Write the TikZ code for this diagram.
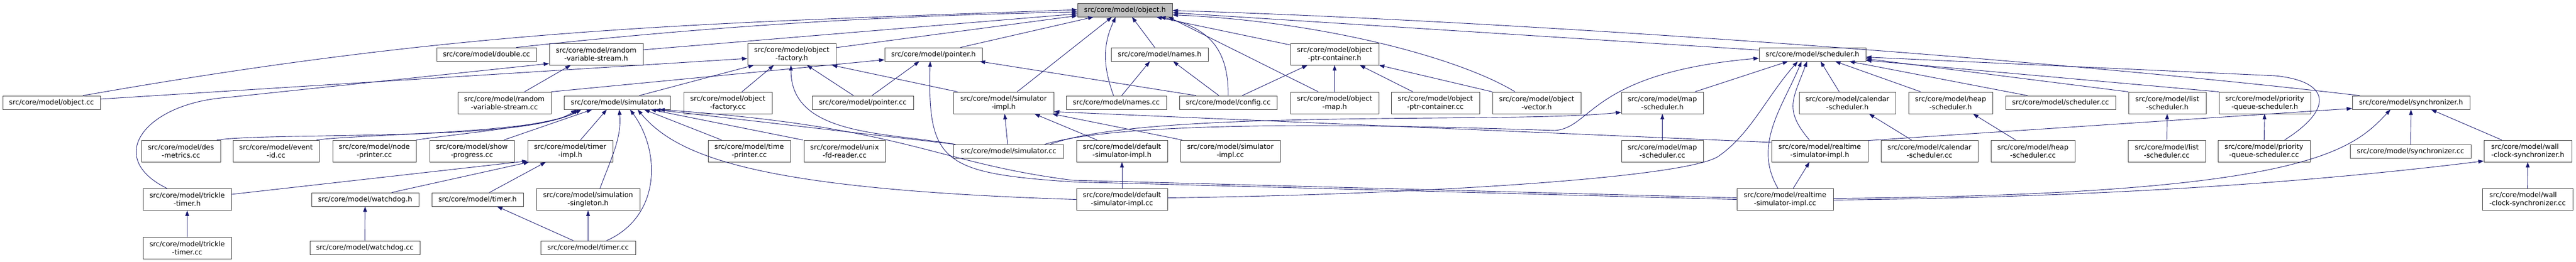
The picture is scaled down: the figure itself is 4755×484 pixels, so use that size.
\documentclass[tikz,border=0pt]{standalone}
\usepackage{fontspec}
\setmainfont{DejaVu Sans}
\usepackage{tikz}
\usetikzlibrary{arrows.meta}
\definecolor{edgeblue}{RGB}{25,25,112}
\definecolor{boxline}{RGB}{64,64,64}
\tikzstyle{file}=[draw=boxline,line width=0.8pt,fill=white,inner sep=0pt,align=center,minimum height=25pt,font=\fontsize{12.8pt}{15pt}\selectfont]
\tikzstyle{file2}=[file,minimum height=40pt]

\begin{document}
\begin{tikzpicture}[x=1pt,y=1pt,dep/.style={draw=edgeblue,line width=0.9pt,-{Triangle[length=10pt,width=7pt]}}]
\useasboundingbox (0,0) rectangle (4755,-484);
\node [file,fill=black!25,minimum width=175pt] (objh) at (2076.5,-18.5) {src/core/model/object.h};
\node [file,minimum width=184pt] (dblcc) at (898,-100.5) {src/core/model/double.cc};
\node [file2,minimum width=173pt] (rvsh) at (1100.5,-100) {src/core/model/random\\-variable-stream.h};
\node [file2,minimum width=163pt] (ofh) at (1461.5,-100) {src/core/model/object\\-factory.h};
\node [file,minimum width=180pt] (ptrh) at (1723,-100.5) {src/core/model/pointer.h};
\node [file,minimum width=179pt] (namesh) at (2140.5,-100.5) {src/core/model/names.h};
\node [file2,minimum width=163pt] (opch) at (2463.5,-100) {src/core/model/object\\-ptr-container.h};
\node [file,minimum width=197pt] (schedh) at (3345.5,-100.5) {src/core/model/scheduler.h};
\node [file,minimum width=180pt] (objcc) at (95,-189.5) {src/core/model/object.cc};
\node [file2,minimum width=172pt] (rvscc) at (931,-190) {src/core/model/random\\-variable-stream.cc};
\node [file,minimum width=196pt] (simh) at (1139,-189.5) {src/core/model/simulator.h};
\node [file2,minimum width=163pt] (ofcc) at (1343.5,-190) {src/core/model/object\\-factory.cc};
\node [file,minimum width=187pt] (ptrcc) at (1592.5,-189.5) {src/core/model/pointer.cc};
\node [file2,minimum width=185pt] (simimplh) at (1852.5,-190) {src/core/model/simulator\\-impl.h};
\node [file,minimum width=185pt] (namescc) at (2060.5,-189.5) {src/core/model/names.cc};
\node [file,minimum width=180pt] (configcc) at (2267,-189.5) {src/core/model/config.cc};
\node [file2,minimum width=163pt] (omaph) at (2463.5,-190) {src/core/model/object\\-map.h};
\node [file2,minimum width=163pt] (opccc) at (2649.5,-190) {src/core/model/object\\-ptr-container.cc};
\node [file2,minimum width=163pt] (ovech) at (2836.5,-190) {src/core/model/object\\-vector.h};
\node [file2,minimum width=151pt] (mapsh) at (3068.5,-190) {src/core/model/map\\-scheduler.h};
\node [file2,minimum width=178pt] (calsh) at (3410,-190) {src/core/model/calendar\\-scheduler.h};
\node [file2,minimum width=155pt] (heapsh) at (3600.5,-190) {src/core/model/heap\\-scheduler.h};
\node [file,minimum width=203pt] (schedcc) at (3803.5,-189.5) {src/core/model/scheduler.cc};
\node [file2,minimum width=143pt] (listsh) at (4000.5,-190) {src/core/model/list\\-scheduler.h};
\node [file2,minimum width=169pt] (pqsh) at (4180.5,-190) {src/core/model/priority\\-queue-scheduler.h};
\node [file,minimum width=217pt] (synch) at (4450.5,-189.5) {src/core/model/synchronizer.h};
\node [file2,minimum width=146pt] (descc) at (334,-279) {src/core/model/des\\-metrics.cc};
\node [file2,minimum width=159pt] (evcc) at (509.5,-279) {src/core/model/event\\-id.cc};
\node [file2,minimum width=154pt] (npcc) at (691,-279) {src/core/model/node\\-printer.cc};
\node [file2,minimum width=156pt] (spcc) at (871,-279) {src/core/model/show\\-progress.cc};
\node [file2,minimum width=157pt] (timplh) at (1052.5,-279) {src/core/model/timer\\-impl.h};
\node [file2,minimum width=152pt] (tpcc) at (1383,-279) {src/core/model/time\\-printer.cc};
\node [file2,minimum width=150pt] (unixcc) at (1559,-279) {src/core/model/unix\\-fd-reader.cc};
\node [file,minimum width=203pt] (simcc) at (1861.5,-279.5) {src/core/model/simulator.cc};
\node [file2,minimum width=168pt] (dsimh) at (2071,-279) {src/core/model/default\\-simulator-impl.h};
\node [file2,minimum width=184pt] (simimplcc) at (2271,-279) {src/core/model/simulator\\-impl.cc};
\node [file2,minimum width=151pt] (mapscc) at (3068.5,-279) {src/core/model/map\\-scheduler.cc};
\node [file2,minimum width=178pt] (rtsimh) at (3359,-279) {src/core/model/realtime\\-simulator-impl.h};
\node [file2,minimum width=179pt] (calscc) at (3561.5,-279) {src/core/model/calendar\\-scheduler.cc};
\node [file2,minimum width=155pt] (heapscc) at (3752.5,-279) {src/core/model/heap\\-scheduler.cc};
\node [file2,minimum width=143pt] (listscc) at (3999.5,-279) {src/core/model/list\\-scheduler.cc};
\node [file2,minimum width=170pt] (pqscc) at (4179,-279) {src/core/model/priority\\-queue-scheduler.cc};
\node [file,minimum width=223pt] (synccc) at (4449.5,-279.5) {src/core/model/synchronizer.cc};
\node [file2,align=left,minimum width=162pt] (wallh) at (4666,-279) {src/core/model/wall\\-clock-synchronizer.h};
\node [file2,minimum width=163pt] (trickleh) at (345.5,-368.5) {src/core/model/trickle\\-timer.h};
\node [file,minimum width=198pt] (wdogh) at (674,-368.5) {src/core/model/watchdog.h};
\node [file,minimum width=169pt] (timerh) at (881.5,-368.5) {src/core/model/timer.h};
\node [file2,minimum width=191pt] (ssingh) at (1085.5,-368.5) {src/core/model/simulation\\-singleton.h};
\node [file2,minimum width=168pt] (dsimcc) at (2071,-368.5) {src/core/model/default\\-simulator-impl.cc};
\node [file2,minimum width=178pt] (rtsimcc) at (3295,-368.5) {src/core/model/realtime\\-simulator-impl.cc};
\node [file2,align=left,minimum width=167pt] (wallcc) at (4665.5,-368.5) {src/core/model/wall\\-clock-synchronizer.cc};
\node [file2,minimum width=163pt] (tricklecc) at (345.5,-458) {src/core/model/trickle\\-timer.cc};
\node [file,minimum width=203pt] (wdogcc) at (673.5,-457.5) {src/core/model/watchdog.cc};
\node [file,minimum width=175pt] (timercc) at (1085.5,-457.5) {src/core/model/timer.cc};

\draw [dep] ([xshift=58pt]objcc.north) .. controls (862,-52) and (1269,-44) .. ([yshift=0.5pt]objh.west);
\draw [dep] ([xshift=55pt]dblcc.north) .. controls (1300,-50) and (1600,-30) .. ([yshift=-3.5pt]objh.west);
\draw [dep] ([yshift=8pt]rvsh.east) -- ([yshift=-7pt]objh.west);
\draw [dep] ([yshift=12pt]ofh.east) -- ([yshift=-10.5pt]objh.west);
\draw [dep] ([xshift=50pt]ptrh.north) -- ([xshift=-58pt]objh.south);
\draw [dep] ([xshift=25pt]simimplh.north) -- ([xshift=-24pt]objh.south);
\draw [dep] ([xshift=-5pt]namescc.north) .. controls (2036,-123) and (2035,-83) .. ([xshift=-17pt]objh.south);
\draw [dep] ([xshift=-9pt]namesh.north) -- ([xshift=13pt]objh.south);
\draw [dep] (configcc.north) .. controls (2268,-90) and (2230,-50) .. ([xshift=65pt]objh.south);
\draw [dep] ([yshift=17pt]opch.west) -- ([xshift=58pt]objh.south);
\draw [dep] ([xshift=-30pt]omaph.north) -- ([xshift=80pt]objh.south);
\draw [dep] ([xshift=-40pt]ovech.north) .. controls (2700,-110) and (2450,-40) .. ([yshift=-9pt]objh.east);
\draw [dep] ([yshift=8pt]schedh.west) -- ([yshift=-5pt]objh.east);
\draw [dep] ([xshift=-95pt]synch.north) .. controls (3700,-100) and (2700,-35) .. ([yshift=-1pt]objh.east);

\draw [dep] ([xshift=-37pt]trickleh.north) .. controls (190,-290) and (270,-190) .. (420,-180) -- ([yshift=3pt]rvsh.south west);
\draw [dep] ([xshift=37pt]rvscc.north) -- ([xshift=-47pt]rvsh.south);

\draw [dep] ([yshift=6.5pt]objcc.east) -- ([yshift=-8pt]ofh.west);
\draw [dep] ([xshift=41pt]simh.north) -- ([xshift=-70pt]ofh.south);
\draw [dep] ([xshift=26pt]ofcc.north) -- ([xshift=-33pt]ofh.south);
\draw [dep] ([xshift=-99pt]simcc.north) .. controls (1633,-244) and (1460,-251) .. ([xshift=-1.5pt]ofh.south);
\draw [dep] ([xshift=-17pt]ptrcc.north) -- ([xshift=28pt]ofh.south);
\draw [dep] ([xshift=-85pt]simimplh.north) -- ([xshift=-8pt]ofh.south east);

\draw [dep] (rvscc.north east) -- ([yshift=3pt]ptrh.south west);
\draw [dep] ([xshift=17pt]ptrcc.north) -- ([xshift=-26pt]ptrh.south);
\draw [dep] (rtsimcc.west) -- (1980,-336) .. controls (1740,-320) and (1712,-300) .. ([xshift=-6pt]ptrh.south);
\draw [dep] ([xshift=-59pt]configcc.north) -- ([xshift=-5pt]ptrh.south east);

\draw [dep] ([xshift=10pt]namescc.north) -- ([xshift=-18pt]namesh.south);
\draw [dep] ([xshift=-17pt]configcc.north) -- ([xshift=25pt]namesh.south);

\draw [dep] ([xshift=26pt]configcc.north) -- ([xshift=-50pt]opch.south);
\draw [dep] (omaph) -- (opch);
\draw [dep] ([xshift=-41.5pt]opccc.north) -- ([xshift=46.5pt]opch.south);
\draw [dep] (ovech.north west) -- (opch.south east);

\draw [dep] ([xshift=-35pt]simcc.north east) .. controls (2100,-215) and (2680,-235) .. (2870,-241) .. controls (2940,-236) and (2935,-135) .. ([yshift=-7pt]schedh.west);
\draw [dep] ([xshift=-25pt]simcc.north east) .. controls (2120,-200) and (2787,-229) .. ([yshift=3pt]mapsh.south west);
\draw [dep] ([xshift=60pt]mapsh.north) -- ([xshift=-45pt]schedh.south);
\draw [dep] ([yshift=3pt]dsimcc.east) .. controls (2600,-360) and (3100,-330) .. (3170,-290) .. controls (3230,-250) and (3260,-180) .. ([xshift=-27pt]schedh.south);
\draw [dep] ([xshift=-13pt]rtsimcc.north) .. controls (3235,-268) and (3290,-198) .. ([xshift=-20pt]schedh.south);
\draw [dep] ([xshift=-19pt]rtsimh.north) .. controls (3292,-202) and (3310,-183) .. ([xshift=-10pt]schedh.south);
\draw [dep] ([xshift=-15pt]calsh.north) -- ([xshift=15pt]schedh.south);
\draw [dep] ([xshift=-55pt]heapsh.north) -- ([xshift=42pt]schedh.south);
\draw [dep] ([xshift=-61pt]schedcc.north) -- ([xshift=68pt]schedh.south);
\draw [dep] (listsh.north west) -- ([yshift=-8pt]schedh.east);
\draw [dep] (pqsh.north west) -- ([yshift=-11pt]schedh.east);
\draw [dep] ([xshift=38pt]pqscc.north) .. controls (4310,-200) and (4300,-150) .. (4200,-140) -- ([yshift=-5pt]schedh.east);

\draw [dep] ([xshift=-7pt]descc.north east) .. controls (503,-244) and (979,-262) .. ([xshift=-75pt]simh.south);
\draw [dep] ([xshift=-5pt]evcc.north east) .. controls (659,-248) and (1006,-246) .. ([xshift=-71pt]simh.south);
\draw [dep] (npcc.north east) .. controls (827,-249) and (1021,-232) .. ([xshift=-66pt]simh.south);
\draw [dep] ([xshift=59pt]spcc.north) -- ([xshift=-46pt]simh.south);
\draw [dep] ([xshift=19pt]timplh.north) -- ([xshift=-19pt]simh.south);
\draw [dep] ([xshift=22pt]ssingh.north) .. controls (1127,-295) and (1148,-255) .. ([xshift=4pt]simh.south);
\draw [dep] ([xshift=34pt]timercc.north) .. controls (1220,-400) and (1220,-280) .. ([xshift=24pt]simh.south);
\draw [dep] ([xshift=-51pt]tpcc.north) -- ([xshift=50pt]simh.south);
\draw [dep] ([xshift=-77pt]unixcc.north) -- ([xshift=62pt]simh.south);
\draw [dep] ([xshift=-98pt]simcc.north) -- ([xshift=70pt]simh.south);
\draw [dep] (dsimcc.west) .. controls (1400,-350) and (1250,-290) .. ([xshift=38pt]simh.south);
\draw [dep] ([yshift=3pt]rtsimcc.west) -- (1980,-333) .. controls (1720,-300) and (1680,-235) .. ([xshift=78pt]simh.south);

\draw [dep] ([xshift=-1.5pt]simcc.north) -- ([xshift=2pt]simimplh.south);
\draw [dep] ([xshift=-46pt]dsimh.north) -- ([xshift=57pt]simimplh.south);
\draw [dep] ([xshift=-89pt]simimplcc.north) -- ([xshift=-3pt]simimplh.south east);
\draw [dep] ([yshift=16pt]rtsimh.west) -- ([yshift=4pt]simimplh.south east);

\draw [dep] (mapscc) -- (mapsh);
\draw [dep] ([xshift=-33pt]calscc.north) -- ([xshift=40pt]calsh.south);
\draw [dep] ([xshift=-32pt]heapscc.north) -- ([xshift=41.5pt]heapsh.south);
\draw [dep] (listscc) -- (listsh);
\draw [dep] (pqscc) -- (pqsh);

\draw [dep] ([yshift=-1pt]rtsimh.north east) -- ([yshift=2pt]synch.south west);
\draw [dep] ([yshift=2pt]rtsimcc.east) .. controls (4250,-360) and (4340,-280) .. ([xshift=-38pt]synch.south);
\draw [dep] (synccc) -- (synch);
\draw [dep] ([xshift=-48pt]wallh.north) -- ([xshift=37pt]synch.south);
\draw [dep] (wallcc) -- (wallh);
\draw [dep] ([yshift=-1pt]rtsimcc.east) .. controls (3800,-365) and (4200,-345) .. ([yshift=2pt]wallh.south west);

\draw [dep] ([yshift=9.5pt]trickleh.east) -- ([yshift=2pt]timplh.south west);
\draw [dep] ([xshift=49pt]wdogh.north) -- ([xshift=3pt]timplh.south west);
\draw [dep] ([xshift=22pt]timerh.north) -- ([xshift=-45pt]timplh.south);
\draw [dep] (tricklecc) -- (trickleh);
\draw [dep] (wdogcc) -- (wdogh);
\draw [dep] ([xshift=-27pt]timercc.north) -- ([xshift=36pt]timerh.south);
\draw [dep] (timercc) -- (ssingh);
\draw [dep] (dsimcc) -- (dsimh);
\draw [dep] ([xshift=15pt]rtsimcc.north) -- ([xshift=-19pt]rtsimh.south);
\end{tikzpicture}
\end{document}
